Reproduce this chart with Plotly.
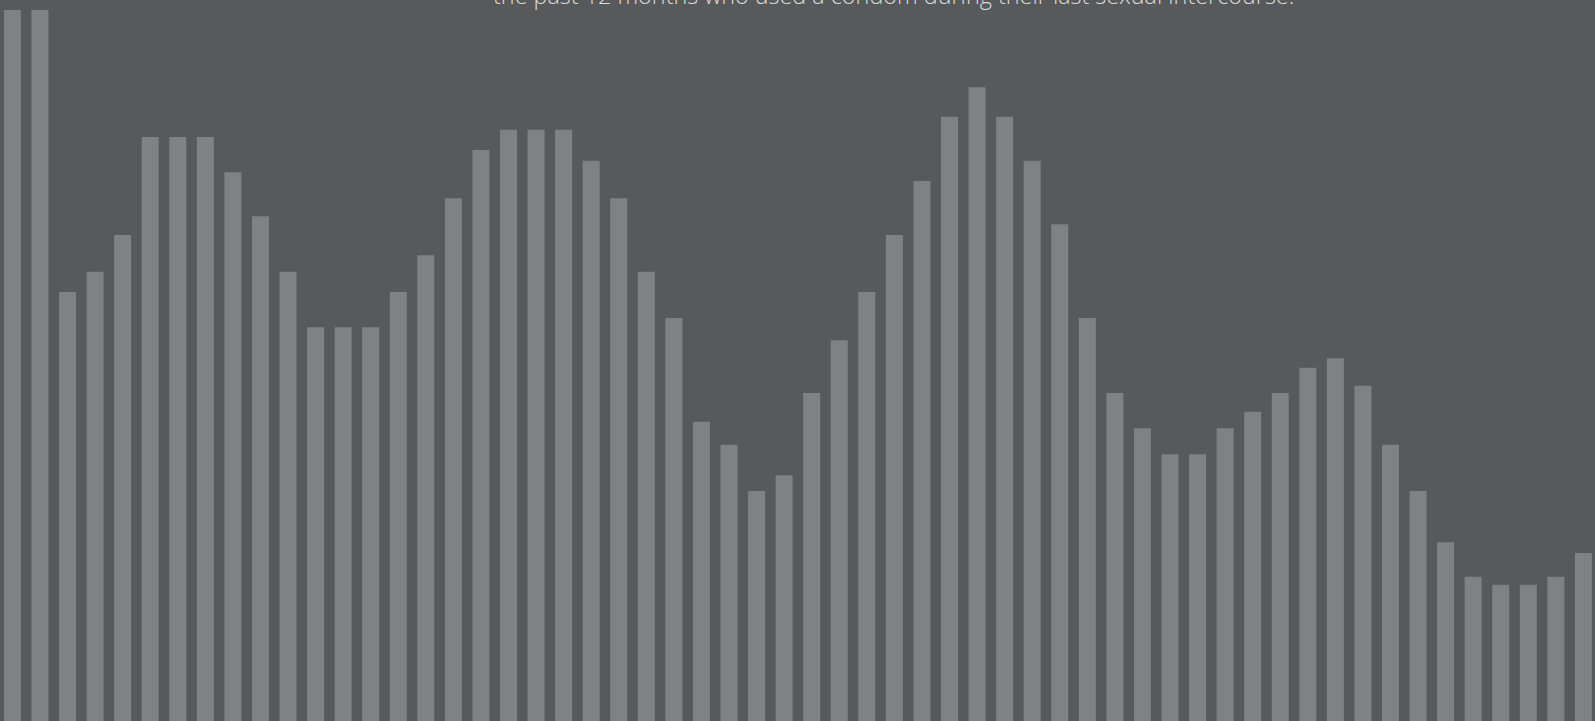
import plotly.graph_objects as go

# Category index (one bar per group; labels not visible in the crop)
categories = list(range(1, 59))

# Share (%)
values = [
    98.6, 98.6, 59.5, 62.3, 67.4, 81.0, 81.0, 81.0, 76.1, 70.0,
    62.3, 54.6, 54.6, 54.6, 59.5, 64.6, 72.5, 79.2, 82.0, 82.0,
    82.0, 77.7, 72.5, 62.3, 55.9, 41.5, 38.3, 31.9, 34.1, 45.5,
    52.8, 59.5, 67.4, 74.9, 83.8, 87.9, 83.8, 77.7, 68.9, 55.9,
    45.5, 40.6, 37.0, 37.0, 40.6, 42.9, 45.5, 49.0, 50.3, 46.5,
    38.3, 31.9, 24.8, 20.0, 18.9, 18.9, 20.0, 23.3,
]

subtitle = "the past 12 months who used a condom during their last sexual intercourse."

BG = "#58595b"
BAR = "#808184"

fig = go.Figure(
    go.Bar(
        x=list(range(len(categories))),
        y=values,
        marker=dict(color=BAR, line=dict(width=0)),
        hoverinfo="skip",
    )
)

fig.update_layout(
    width=1595,
    height=721,
    margin=dict(l=0, r=0, t=0, b=0),
    paper_bgcolor=BG,
    plot_bgcolor=BG,
    bargap=0.383,
    showlegend=False,
    xaxis=dict(range=[-0.45, 57.42], visible=False, fixedrange=True),
    yaxis=dict(range=[0, 100], visible=False, fixedrange=True),
    annotations=[
        dict(
            text=subtitle,
            xref="paper", yref="paper",
            x=893 / 1595, y=1 - 13 / 721,
            xanchor="center", yanchor="bottom",
            showarrow=False,
            font=dict(family="Open Sans, Lato, sans-serif", size=23.4, color="#d9d9d9", weight=300),
        )
    ],
)

fig.write_html(
    "out.html",
    config={"displayModeBar": False},
    post_script="document.body.style.margin='0';document.body.style.overflow='hidden';document.body.style.background='#58595b';",
)
